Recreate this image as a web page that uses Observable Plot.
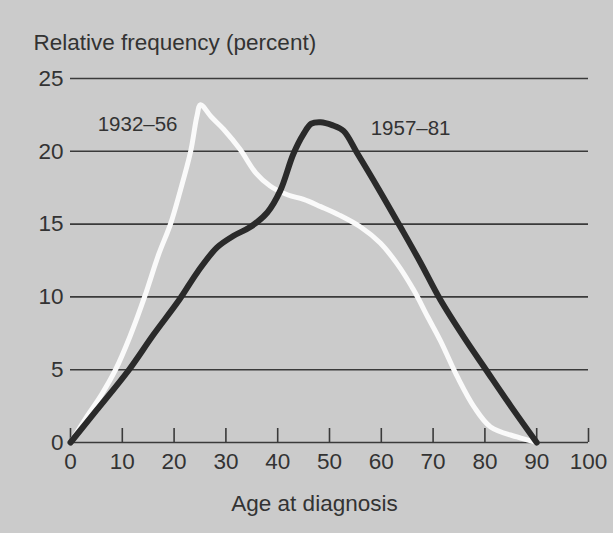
<!DOCTYPE html>
<html><head><meta charset="utf-8">
<script src="https://cdn.jsdelivr.net/npm/d3@7"></script>
<script src="https://cdn.jsdelivr.net/npm/@observablehq/plot@0.6"></script>
<style>body{margin:0;background:#cbcbcb;}</style>
</head><body><div id="chart"></div>
<script>
// 1932–56 series (white line)
const ages1932 = [0, 3, 6, 8.7, 11.5, 14.3, 17, 19.3, 21.2, 23.2, 24.4, 25.1, 27.2, 29.6, 32.8, 35.8, 38.6, 42, 45, 48.3, 52, 56, 59.8, 63, 66.2, 69, 71.4, 74.7, 77.9, 81.1, 86.2, 90];
const freq1932 = [0, 1.7, 3.3, 5, 7.3, 10, 12.9, 15, 17.3, 20, 22.4, 23.2, 22.35, 21.5, 20.1, 18.5, 17.6, 17.0, 16.7, 16.2, 15.6, 14.8, 13.7, 12.3, 10.5, 8.6, 7.0, 4.5, 2.45, 1.07, 0.38, 0];
// 1957–81 series (black line)
const ages1957 = [0, 5, 11.3, 16, 21, 24.5, 28.3, 31.5, 34.7, 38, 40.5, 43, 45, 46.5, 48.3, 50.5, 52.7, 55.3, 59.5, 63.7, 67.5, 71.4, 76, 80.2, 85, 90];
const freq1957 = [0, 2.2, 5, 7.4, 9.8, 11.7, 13.4, 14.2, 14.8, 15.8, 17.3, 19.8, 21.2, 21.9, 22.0, 21.8, 21.4, 19.9, 17.4, 14.8, 12.4, 9.8, 7.2, 5, 2.5, 0];
const seriesNames = ["1932\u201356", "1957\u201381"];
const xTicks = [0, 10, 20, 30, 40, 50, 60, 70, 80, 90, 100];
const yTicks = [0, 5, 10, 15, 20, 25];
const yTitle = "Relative frequency (percent)";
const xTitle = "Age at diagnosis";

const data1932 = ages1932.map((a, i) => ({age: a, freq: freq1932[i]}));
const data1957 = ages1957.map((a, i) => ({age: a, freq: freq1957[i]}));
const peak1932 = d3.greatest(data1932, d => d.freq);
const peak1957 = d3.greatest(data1957, d => d.freq);

const ink = "#333";
const chart = Plot.plot({
  width: 613, height: 533,
  marginLeft: 70, marginRight: 25, marginTop: 78, marginBottom: 91,
  style: {background: "#cbcbcb", fontFamily: "'Liberation Sans', Arial, Helvetica, sans-serif", fontSize: "22.5px", color: ink},
  x: {domain: [0, 100]},
  y: {domain: [0, 25]},
  marks: [
    Plot.ruleY(yTicks, {stroke: "#3a3a3a", strokeWidth: 1.6}),
    Plot.ruleX(xTicks, {insetTop: 350, stroke: "#3a3a3a", strokeWidth: 1.6}),
    Plot.axisY({ticks: yTicks, tickSize: 0, tickPadding: 7, label: null, fill: ink}),
    Plot.axisX({ticks: xTicks, tickSize: 0, tickPadding: 11, label: null, fill: ink}),
    Plot.line(data1932, {x: "age", y: "freq", curve: "catmull-rom", stroke: "#fafafa", strokeWidth: 5, strokeLinejoin: "round", strokeLinecap: "round"}),
    Plot.line(data1957, {x: "age", y: "freq", curve: "catmull-rom", stroke: "#2a2a2a", strokeWidth: 6, strokeLinejoin: "round", strokeLinecap: "round"}),
    Plot.text([peak1932], {x: "age", y: "freq", text: () => seriesNames[0], textAnchor: "end", dx: -23, dy: 20, fontSize: 20.5, fill: ink}),
    Plot.text([peak1957], {x: "age", y: "freq", text: () => seriesNames[1], textAnchor: "start", dx: 50, dy: 6, fontSize: 20.5, fill: ink}),
    Plot.text([yTitle], {text: d => d, frameAnchor: "top-left", textAnchor: "start", lineAnchor: "middle", dx: -37, dy: -36, fill: ink}),
    Plot.text([xTitle], {text: d => d, frameAnchor: "bottom", lineAnchor: "middle", dx: -15, dy: 61, fill: ink})
  ]
});
document.getElementById("chart").append(chart);
</script>
</body></html>
